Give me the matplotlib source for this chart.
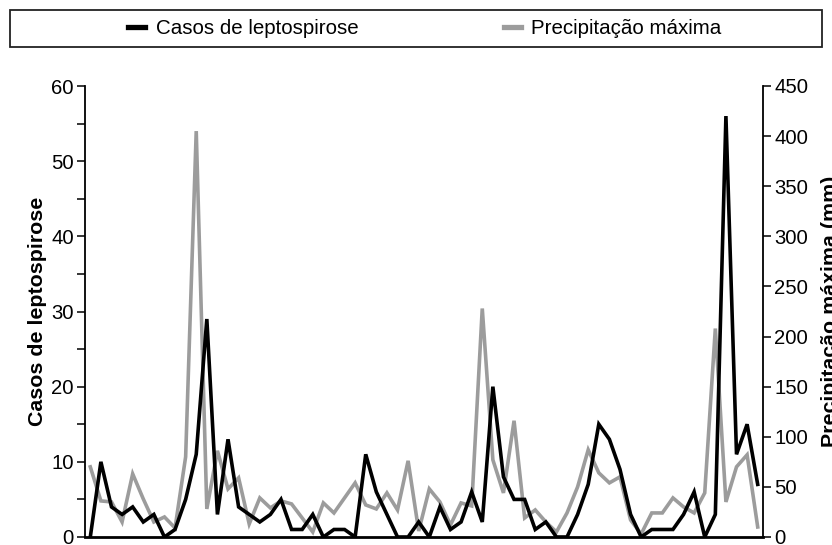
import matplotlib
matplotlib.use('Agg')
import matplotlib.pyplot as plt
from matplotlib.lines import Line2D
from matplotlib.patches import Rectangle
from matplotlib.ticker import MultipleLocator
import numpy as np

plt.rcParams['font.family'] = ['Liberation Sans', 'DejaVu Sans']
plt.rcParams['font.size'] = 14.4

# monthly series, 64 consecutive months (no x labels in the original)
CASES = [0, 10, 4, 3, 4, 2, 3, 0, 1, 5, 11, 29, 3, 13, 4, 3,
         2, 3, 5, 1, 1, 3, 0, 1, 1, 0, 11, 6, 3, 0, 0, 2,
         0, 4, 1, 2, 6, 2, 20, 8, 5, 5, 1, 2, 0, 0, 3, 7,
         15, 13, 9, 3, 0, 1, 1, 1, 3, 6, 0, 3, 56, 11, 15, 7]
RAIN_MAX = [70, 36, 35, 15, 63, 38, 15, 20, 9, 80, 405, 28, 86, 48, 59, 13,
            39, 29, 36, 33, 19, 5, 34, 24, 39, 54, 32, 28, 44, 27, 76, 6,
            48, 35, 12, 34, 31, 228, 77, 44, 116, 19, 27, 15, 5, 24, 50, 87,
            64, 54, 60, 17, 3, 24, 24, 39, 30, 24, 44, 208, 35, 70, 82, 10]
LABEL_CASES = 'Casos de leptospirose'
LABEL_RAIN = 'Precipitação máxima'
YLABEL_RIGHT = 'Precipitação máxima (mm)'

BLACK = '#000000'
GREY = '#9c9c9c'

W, H = 832, 545
fig = plt.figure(figsize=(W / 100, H / 100), dpi=100)
ax = fig.add_axes([85 / W, 1 - 537 / H, (763 - 85) / W, (537 - 86) / H])
ax2 = ax.twinx()
ax.set_zorder(ax2.get_zorder() + 1)
ax.patch.set_visible(False)

x = np.arange(len(CASES))
ax2.plot(x, RAIN_MAX, color=GREY, linewidth=2.6, solid_joinstyle='miter')
ax.plot(x, CASES, color=BLACK, linewidth=2.6, solid_joinstyle='miter')

ax.set_xlim(-0.5, len(CASES) - 0.5)
ax.set_ylim(0, 60)
ax2.set_ylim(0, 450)
ax.yaxis.set_major_locator(MultipleLocator(10))
ax.yaxis.set_minor_locator(MultipleLocator(5))
ax2.yaxis.set_major_locator(MultipleLocator(50))
ax.set_xticks([])

for a in (ax, ax2):
    a.spines['top'].set_visible(False)
    for s in ('left', 'right', 'bottom'):
        a.spines[s].set_linewidth(1.3)
    a.tick_params(axis='y', which='both', direction='out', length=6,
                  width=1.1, labelsize=14.6, pad=2)
ax2.spines['bottom'].set_visible(False)
ax.spines['right'].set_visible(False)
ax2.spines['left'].set_visible(False)
ax.spines['bottom'].set_linewidth(2)

ax.set_ylabel(LABEL_CASES, fontweight='bold', fontsize=15.4, labelpad=3)
ax2.set_ylabel(YLABEL_RIGHT, fontweight='bold', fontsize=15.4, labelpad=9)

# legend box across the top
fig.patches.append(Rectangle((10 / W, 1 - 47 / H), 812 / W, 37 / H,
                             transform=fig.transFigure, facecolor='none',
                             edgecolor='#222222', linewidth=1.3))
handles = [Line2D([], [], color=BLACK, linewidth=3.8),
           Line2D([], [], color=GREY, linewidth=3.8)]
fig.legend(handles, [LABEL_CASES, LABEL_RAIN], loc='center',
           bbox_to_anchor=(425 / W, 1 - 29 / H), ncol=2, frameon=False,
           handlelength=0.82, handletextpad=0.5, columnspacing=7.1,
           fontsize=14.8, borderpad=0)

fig.savefig('out.png', dpi=100)
